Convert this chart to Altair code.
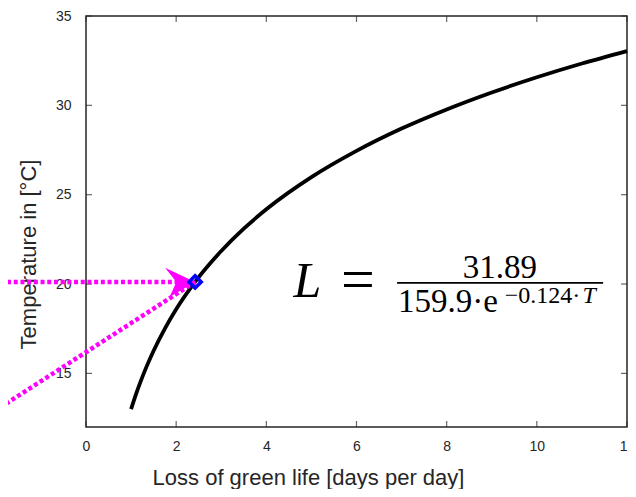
import altair as alt
import pandas as pd

# ---- data ----
loss = [1.0, 1.1, 1.2, 1.35, 1.5, 1.75, 2.0, 2.42, 3.0, 3.5, 4.0, 5.0, 6.0, 7.0, 8.0, 9.0, 10.0, 11.0, 12.0]
temp = [13.0, 13.77, 14.47, 15.42, 16.27, 17.51, 18.59, 20.12, 21.85, 23.1, 24.18, 25.98, 27.45, 28.7, 29.77, 30.72, 31.57, 32.34, 33.04]

x_ticks = [0, 2, 4, 6, 8, 10, 12]
y_ticks = [15, 20, 25, 30, 35]

marker_loss = [2.42]
marker_temp = [20.12]

arrow_names = ["horizontal", "horizontal", "diagonal", "diagonal"]
arrow_loss = [-1.9, 2.42, -1.9, 2.42]
arrow_temp = [20.12, 20.12, 13.1, 20.12]

AXIS_COLOR = "#262626"
SANS = "Liberation Sans"
SERIF = "Liberation Serif"

curve_df = pd.DataFrame({"loss": loss, "temp": temp})
marker_df = pd.DataFrame({"loss": marker_loss, "temp": marker_temp})
arrow_df = pd.DataFrame({"arrow": arrow_names, "loss": arrow_loss, "temp": arrow_temp})
xt_df = pd.DataFrame({"loss": x_ticks})
yt_df = pd.DataFrame({"temp": y_ticks})

xs = alt.Scale(domain=[0, 12], nice=False, zero=False)
ys = alt.Scale(domain=[12, 35], nice=False, zero=False)

x_axis = alt.Axis(
    values=x_ticks, ticks=False, tickSize=0, domain=False, grid=False,
    labelFont=SANS, labelFontSize=14, labelColor=AXIS_COLOR, labelPadding=12,
    labelFlush=False, labelOverlap=False,
    title="Loss of green life [days per day]", titleFont=SANS, titleFontSize=22,
    titleFontWeight="normal", titleColor=AXIS_COLOR,
    titleX=222, titleY=57, titleAlign="center", titleBaseline="alphabetic",
)
y_axis = alt.Axis(
    values=y_ticks, ticks=False, tickSize=0, domain=False, grid=False,
    labelFont=SANS, labelFontSize=14, labelColor=AXIS_COLOR, labelPadding=15,
    labelFlush=False, labelOverlap=False,
    title="Temperature in [°C]", titleFont=SANS, titleFontSize=22,
    titleFontWeight="normal", titleColor=AXIS_COLOR,
    titleX=-58, titleY=238, titleAngle=270, titleAlign="center", titleBaseline="middle",
)

curve = alt.Chart(curve_df).mark_line(
    color="black", strokeWidth=3.8, interpolate="monotone"
).encode(
    x=alt.X("loss:Q", scale=xs, axis=x_axis),
    y=alt.Y("temp:Q", scale=ys, axis=y_axis),
)

arrows = alt.Chart(arrow_df).mark_line(
    color="#ff00ff", strokeWidth=4.5, strokeDash=[4, 2.7], clip=False
).encode(
    x=alt.X("loss:Q", scale=xs),
    y=alt.Y("temp:Q", scale=ys),
    detail="arrow:N",
)

arrow_head = alt.Chart(marker_df).mark_point(
    shape="M0,0 L-2,-0.95 L-1.25,0 L-1.7,1.0 Z",
    filled=True, color="#ff00ff", opacity=1, size=900, strokeWidth=0,
).encode(
    x=alt.X("loss:Q", scale=xs),
    y=alt.Y("temp:Q", scale=ys),
)

marker = alt.Chart(marker_df).mark_point(
    shape="diamond", filled=False, color="#0000ff", strokeWidth=3.5, size=150, opacity=1
).encode(
    x=alt.X("loss:Q", scale=xs),
    y=alt.Y("temp:Q", scale=ys),
)

# inward ticks on all four sides
tick_bottom = alt.Chart(xt_df).mark_tick(
    orient="vertical", size=6, thickness=1.2, color=AXIS_COLOR, yOffset=-3
).encode(x=alt.X("loss:Q", scale=xs), y=alt.datum(12))
tick_top = alt.Chart(xt_df).mark_tick(
    orient="vertical", size=6, thickness=1.2, color=AXIS_COLOR, yOffset=3
).encode(x=alt.X("loss:Q", scale=xs), y=alt.datum(35))
tick_left = alt.Chart(yt_df).mark_tick(
    orient="horizontal", size=6, thickness=1.2, color=AXIS_COLOR, xOffset=3
).encode(x=alt.datum(0), y=alt.Y("temp:Q", scale=ys))
tick_right = alt.Chart(yt_df).mark_tick(
    orient="horizontal", size=6, thickness=1.2, color=AXIS_COLOR, xOffset=-3
).encode(x=alt.datum(12), y=alt.Y("temp:Q", scale=ys))

# formula annotation  L = 31.89 / (159.9·e^(−0.124·T))
def label(text, x, y, size, align="left", style="normal"):
    return alt.Chart(marker_df).mark_text(
        text=text, font=SERIF, fontSize=size, fontStyle=style, color="black",
        align=align, baseline="alphabetic",
    ).encode(x=alt.datum(x), y=alt.datum(y))

f_L = label("L", 4.60, 19.27, 50, style="italic")
f_eq = label("=", 6.03, 19.16, 60, align="center")
f_num = label("31.89", 9.18, 20.34, 33, align="center")
f_den = label("159.9·e", 6.92, 18.44, 33)
f_sup = label("−0.124·", 9.29, 18.94, 24)
f_T = label("T", 11.31, 18.94, 24, align="right", style="italic")
f_bar = alt.Chart(marker_df).mark_rule(color="black", strokeWidth=1.8).encode(
    x=alt.datum(6.90), x2=alt.datum(11.47), y=alt.datum(20.06)
)

chart = alt.layer(
    curve, tick_bottom, tick_top, tick_left, tick_right,
    arrows, arrow_head, marker,
    f_L, f_eq, f_num, f_den, f_sup, f_T, f_bar,
).properties(
    width=541, height=411,
    autosize=alt.AutoSizeParams(type="none"),
    padding={"left": 78, "top": 8, "right": 1, "bottom": 62},
    background="white",
).configure_view(
    stroke=AXIS_COLOR, strokeWidth=1.5
)

chart.save("out.html", embed_options={"renderer": "svg", "actions": False})
